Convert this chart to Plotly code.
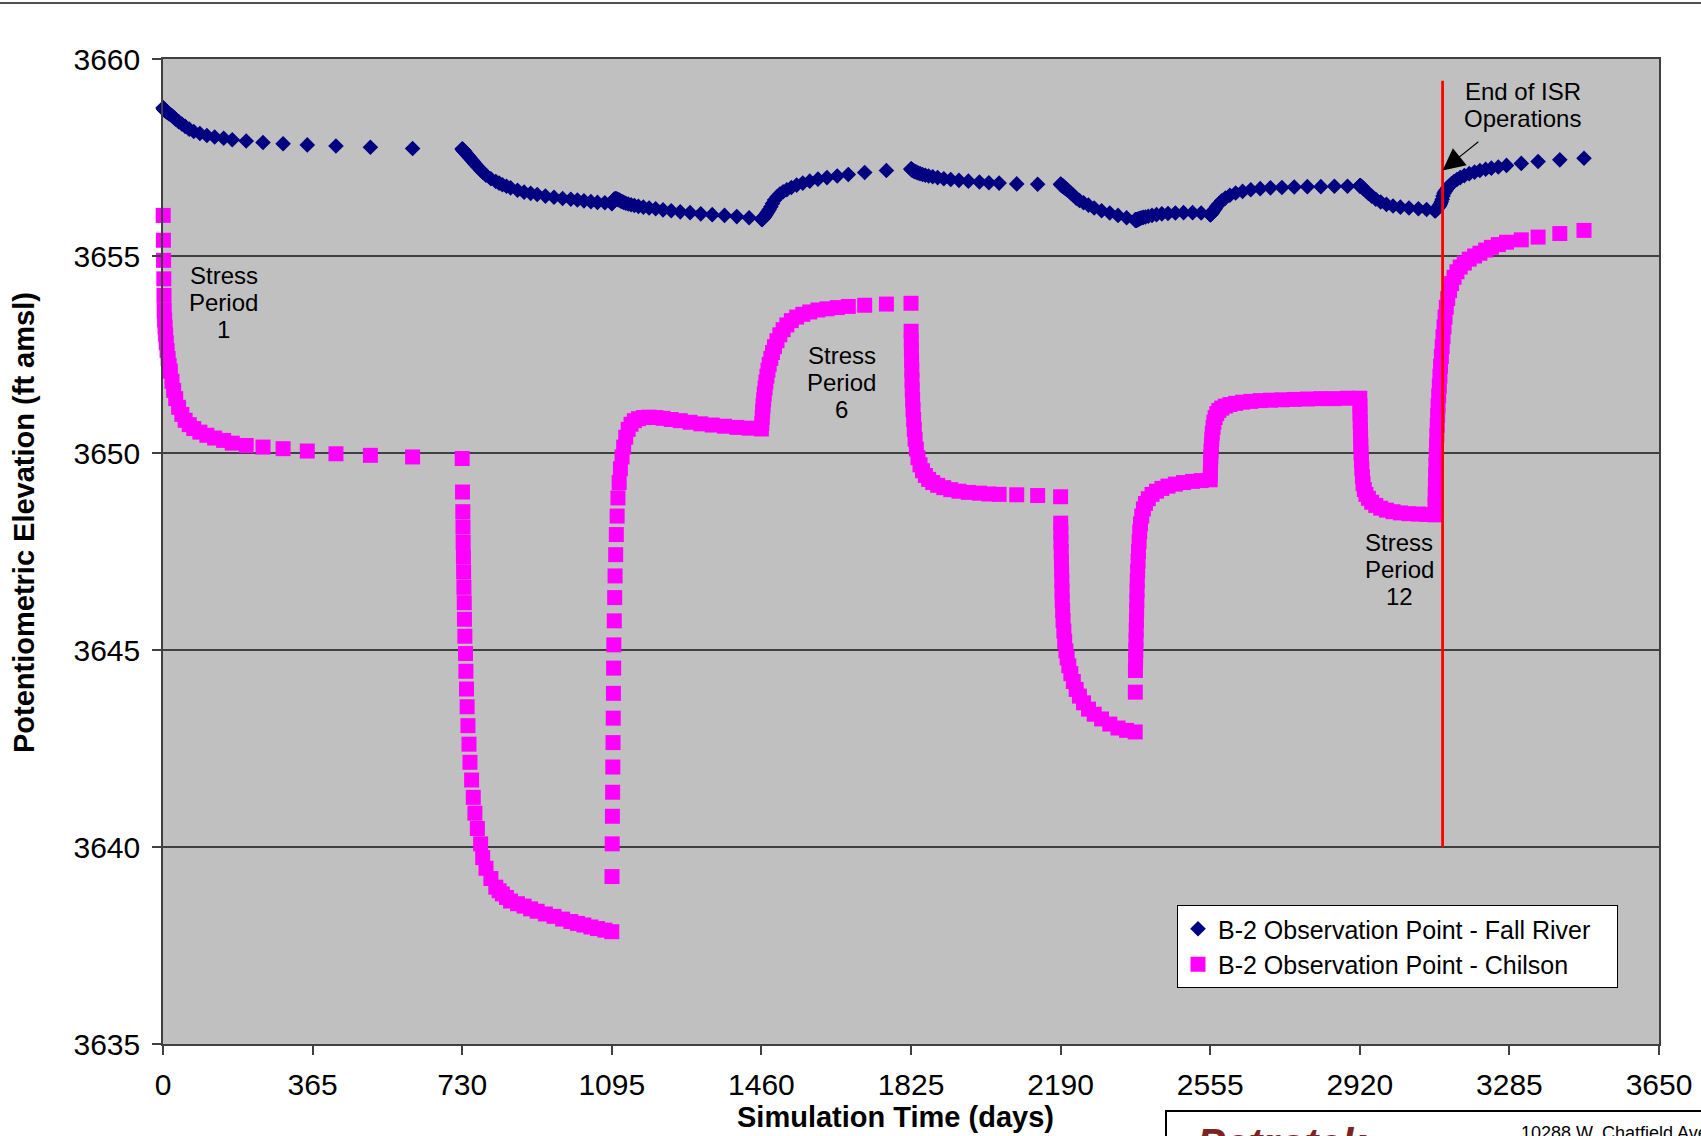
import plotly.graph_objects as go

# ---------------- data ----------------
# Simulation time (days) and heads (ft amsl) per stress-period block
SP1_DAYS = [0.5, 1, 1.5, 2, 2.5, 3, 4, 5, 6.5, 8, 10, 12.5, 15, 18, 22, 26, 31, 38, 46, 54, 64, 75, 90, 107, 126, 148, 169, 203, 244, 293, 352, 422, 506, 609, 730]
SP1_FALL = [3658.76, 3658.75, 3658.74, 3658.73, 3658.72, 3658.71, 3658.70, 3658.69, 3658.68, 3658.67, 3658.65, 3658.63, 3658.61, 3658.59, 3658.56, 3658.52, 3658.47, 3658.41, 3658.35, 3658.29, 3658.22, 3658.16, 3658.11, 3658.06, 3658.02, 3657.99, 3657.95, 3657.92, 3657.88, 3657.85, 3657.82, 3657.79, 3657.76, 3657.73, 3657.72]
SP1_CHIL = [3656.03, 3655.40, 3654.89, 3654.42, 3654.00, 3653.62, 3653.38, 3653.20, 3653.00, 3652.80, 3652.60, 3652.40, 3652.22, 3652.08, 3651.82, 3651.59, 3651.38, 3651.16, 3650.98, 3650.83, 3650.72, 3650.62, 3650.53, 3650.45, 3650.38, 3650.32, 3650.25, 3650.19, 3650.15, 3650.11, 3650.05, 3649.98, 3649.94, 3649.90, 3649.86]

SP2_DAYS = [730.8, 731.5, 731.9, 732.3, 733, 733.5, 734.2, 735, 735.5, 736.5, 738, 739, 740.5, 742, 744, 746.5, 749, 753, 757, 761, 767, 775, 780, 788, 800, 812, 820, 828, 838, 848, 865, 881, 897, 913, 933, 954, 975, 995, 1011, 1027, 1044, 1060, 1078, 1095]
SP2_FALL = [3657.71, 3657.70, 3657.70, 3657.69, 3657.68, 3657.68, 3657.67, 3657.66, 3657.65, 3657.64, 3657.62, 3657.61, 3657.59, 3657.57, 3657.55, 3657.52, 3657.49, 3657.44, 3657.39, 3657.34, 3657.27, 3657.18, 3657.13, 3657.05, 3656.96, 3656.89, 3656.85, 3656.81, 3656.77, 3656.73, 3656.67, 3656.62, 3656.59, 3656.56, 3656.52, 3656.49, 3656.46, 3656.44, 3656.42, 3656.40, 3656.38, 3656.36, 3656.35, 3656.33]
SP2_CHIL = [3649.01, 3648.51, 3648.12, 3647.73, 3647.36, 3646.98, 3646.59, 3646.20, 3645.78, 3645.35, 3644.91, 3644.46, 3644.01, 3643.56, 3643.08, 3642.61, 3642.15, 3641.70, 3641.26, 3640.86, 3640.47, 3640.08, 3639.73, 3639.46, 3639.20, 3638.98, 3638.89, 3638.81, 3638.72, 3638.63, 3638.56, 3638.50, 3638.43, 3638.37, 3638.30, 3638.24, 3638.17, 3638.11, 3638.06, 3638.02, 3637.97, 3637.93, 3637.89, 3637.85]

SP3_DAYS = [1095.5, 1096, 1096.5, 1097, 1097.5, 1098, 1098.5, 1099, 1099.5, 1100, 1101, 1102, 1103, 1104.5, 1106, 1108, 1110, 1113, 1116, 1120, 1124, 1129, 1135, 1142, 1150, 1160, 1172, 1186, 1202, 1220, 1240, 1262, 1286, 1312, 1340, 1370, 1400, 1430, 1460]
SP3_FALL = [3656.34, 3656.35, 3656.36, 3656.37, 3656.38, 3656.39, 3656.40, 3656.41, 3656.42, 3656.43, 3656.44, 3656.44, 3656.45, 3656.45, 3656.45, 3656.44, 3656.43, 3656.42, 3656.40, 3656.38, 3656.36, 3656.34, 3656.32, 3656.30, 3656.28, 3656.26, 3656.24, 3656.22, 3656.20, 3656.17, 3656.15, 3656.12, 3656.10, 3656.07, 3656.05, 3656.03, 3656.00, 3655.97, 3655.94]
SP3_CHIL = [3639.25, 3640.08, 3640.78, 3641.39, 3642.03, 3642.65, 3643.27, 3643.90, 3644.54, 3645.13, 3645.74, 3646.33, 3646.88, 3647.42, 3647.93, 3648.40, 3648.86, 3649.25, 3649.60, 3649.90, 3650.15, 3650.40, 3650.60, 3650.73, 3650.82, 3650.87, 3650.90, 3650.91, 3650.90, 3650.88, 3650.85, 3650.82, 3650.78, 3650.74, 3650.71, 3650.68, 3650.65, 3650.63, 3650.61]

SP4_DAYS = [1461, 1462, 1463, 1464, 1465.5, 1467, 1469, 1471, 1473.5, 1476, 1479, 1483, 1487, 1492, 1498, 1505, 1513, 1522, 1533, 1546, 1561, 1578, 1598, 1620, 1645, 1672, 1712, 1765, 1825]
SP4_FALL = [3655.93, 3655.93, 3655.94, 3655.95, 3655.97, 3655.99, 3656.02, 3656.05, 3656.09, 3656.13, 3656.18, 3656.25, 3656.33, 3656.42, 3656.50, 3656.57, 3656.63, 3656.68, 3656.74, 3656.80, 3656.85, 3656.90, 3656.95, 3656.99, 3657.03, 3657.07, 3657.12, 3657.17, 3657.21]
SP4_CHIL = [3650.75, 3650.90, 3651.05, 3651.20, 3651.35, 3651.50, 3651.65, 3651.80, 3651.95, 3652.10, 3652.25, 3652.40, 3652.55, 3652.70, 3652.85, 3653.00, 3653.13, 3653.25, 3653.36, 3653.45, 3653.52, 3653.58, 3653.63, 3653.66, 3653.69, 3653.72, 3653.75, 3653.78, 3653.80]

SP5_DAYS = [1825.3, 1825.7, 1826, 1826.5, 1827, 1827.5, 1828, 1829, 1830, 1831.5, 1833, 1835, 1838, 1842, 1847, 1853, 1860, 1868, 1878, 1890, 1905, 1922, 1942, 1965, 1992, 2015, 2040, 2083, 2134, 2190]
SP5_FALL = [3657.21, 3657.21, 3657.20, 3657.20, 3657.19, 3657.19, 3657.18, 3657.18, 3657.17, 3657.16, 3657.15, 3657.14, 3657.13, 3657.11, 3657.09, 3657.07, 3657.05, 3657.03, 3657.01, 3656.99, 3656.96, 3656.94, 3656.92, 3656.90, 3656.88, 3656.86, 3656.85, 3656.83, 3656.82, 3656.82]
SP5_CHIL = [3653.09, 3652.84, 3652.60, 3652.35, 3652.10, 3651.85, 3651.60, 3651.35, 3651.10, 3650.85, 3650.60, 3650.35, 3650.10, 3649.88, 3649.70, 3649.55, 3649.43, 3649.33, 3649.25, 3649.18, 3649.12, 3649.07, 3649.03, 3649.00, 3648.98, 3648.96, 3648.95, 3648.94, 3648.92, 3648.89]

SP6_DAYS = [2190.3, 2190.7, 2191, 2191.5, 2192, 2192.5, 2193, 2193.5, 2194, 2195, 2196, 2198, 2200, 2203, 2206, 2210, 2215, 2221, 2228, 2236, 2246, 2258, 2272, 2290, 2310, 2330, 2351, 2372]
SP6_FALL = [3656.82, 3656.82, 3656.81, 3656.81, 3656.80, 3656.80, 3656.79, 3656.79, 3656.78, 3656.78, 3656.77, 3656.75, 3656.73, 3656.71, 3656.68, 3656.65, 3656.60, 3656.54, 3656.47, 3656.41, 3656.35, 3656.29, 3656.22, 3656.15, 3656.09, 3656.03, 3655.97, 3655.92]
SP6_CHIL = [3648.22, 3647.98, 3647.75, 3647.50, 3647.25, 3647.00, 3646.75, 3646.50, 3646.25, 3646.00, 3645.75, 3645.48, 3645.22, 3644.98, 3644.80, 3644.60, 3644.40, 3644.20, 3644.00, 3643.83, 3643.66, 3643.50, 3643.37, 3643.25, 3643.12, 3643.02, 3642.96, 3642.92]

SP7_DAYS = [2372.3, 2372.6, 2373, 2373.5, 2374, 2374.5, 2375, 2375.5, 2376, 2376.5, 2377, 2378, 2379, 2380, 2381.5, 2383, 2385, 2388, 2392, 2397, 2404, 2413, 2424, 2437, 2452, 2470, 2490, 2512, 2533, 2555]
SP7_FALL = [3655.91, 3655.91, 3655.91, 3655.91, 3655.91, 3655.91, 3655.91, 3655.92, 3655.92, 3655.92, 3655.92, 3655.93, 3655.93, 3655.94, 3655.94, 3655.95, 3655.96, 3655.97, 3655.98, 3655.99, 3656.01, 3656.03, 3656.05, 3656.07, 3656.08, 3656.09, 3656.10, 3656.10, 3656.09, 3656.05]
SP7_CHIL = [3643.93, 3644.48, 3644.75, 3645.00, 3645.25, 3645.50, 3645.75, 3646.00, 3646.25, 3646.50, 3646.75, 3647.00, 3647.25, 3647.50, 3647.75, 3648.00, 3648.20, 3648.40, 3648.58, 3648.72, 3648.84, 3648.95, 3649.03, 3649.10, 3649.16, 3649.21, 3649.25, 3649.28, 3649.30, 3649.32]

SP8_DAYS = [2555.3, 2555.6, 2556, 2556.5, 2557, 2558, 2559, 2560, 2562, 2564, 2567, 2571, 2576, 2583, 2592, 2603, 2617, 2634, 2654, 2677, 2702, 2730, 2760, 2792, 2825, 2858, 2890, 2920]
SP8_FALL = [3656.05, 3656.05, 3656.06, 3656.06, 3656.07, 3656.08, 3656.09, 3656.10, 3656.13, 3656.16, 3656.20, 3656.26, 3656.32, 3656.40, 3656.47, 3656.54, 3656.60, 3656.64, 3656.68, 3656.71, 3656.73, 3656.74, 3656.75, 3656.76, 3656.76, 3656.77, 3656.77, 3656.78]
SP8_CHIL = [3649.45, 3649.60, 3649.75, 3649.90, 3650.05, 3650.20, 3650.35, 3650.50, 3650.65, 3650.78, 3650.90, 3651.00, 3651.08, 3651.14, 3651.19, 3651.23, 3651.26, 3651.29, 3651.31, 3651.33, 3651.34, 3651.35, 3651.36, 3651.37, 3651.38, 3651.38, 3651.39, 3651.39]

SP9_DAYS = [2920.3, 2920.6, 2921, 2921.5, 2922, 2922.5, 2923, 2924, 2925, 2926.5, 2928, 2931, 2935, 2941, 2949, 2959, 2971, 2985, 3001, 3019, 3040, 3063, 3083, 3103]
SP9_FALL = [3656.78, 3656.78, 3656.78, 3656.78, 3656.77, 3656.77, 3656.77, 3656.76, 3656.75, 3656.74, 3656.72, 3656.69, 3656.65, 3656.59, 3656.52, 3656.44, 3656.37, 3656.31, 3656.27, 3656.24, 3656.22, 3656.20, 3656.18, 3656.15]
SP9_CHIL = [3651.20, 3651.00, 3650.80, 3650.60, 3650.40, 3650.20, 3650.00, 3649.80, 3649.60, 3649.40, 3649.22, 3649.07, 3648.95, 3648.85, 3648.75, 3648.67, 3648.60, 3648.55, 3648.51, 3648.48, 3648.46, 3648.45, 3648.44, 3648.43]

SP10_DAYS = [3103.5, 3104, 3104.5, 3105, 3105.7, 3106.4, 3107.2, 3108, 3109, 3110, 3111, 3112.5, 3114, 3115.5, 3117, 3119, 3121, 3123, 3125.5, 3128, 3131, 3134.5, 3139, 3144, 3150, 3157, 3165, 3175, 3187, 3200, 3213, 3227, 3241, 3258, 3278, 3314, 3355, 3408, 3467]
SP10_FALL = [3656.15, 3656.15, 3656.16, 3656.16, 3656.17, 3656.18, 3656.19, 3656.20, 3656.21, 3656.22, 3656.23, 3656.25, 3656.27, 3656.30, 3656.33, 3656.38, 3656.44, 3656.52, 3656.59, 3656.64, 3656.68, 3656.73, 3656.79, 3656.84, 3656.89, 3656.94, 3656.99, 3657.04, 3657.09, 3657.13, 3657.17, 3657.20, 3657.23, 3657.26, 3657.30, 3657.35, 3657.40, 3657.44, 3657.48]
SP10_CHIL = [3648.70, 3648.95, 3649.20, 3649.45, 3649.70, 3649.95, 3650.20, 3650.45, 3650.70, 3650.95, 3651.20, 3651.45, 3651.70, 3651.95, 3652.20, 3652.45, 3652.70, 3652.95, 3653.20, 3653.45, 3653.70, 3653.92, 3654.12, 3654.30, 3654.46, 3654.60, 3654.72, 3654.82, 3654.92, 3655.00, 3655.07, 3655.15, 3655.22, 3655.29, 3655.35, 3655.41, 3655.48, 3655.57, 3655.65]

X_TICKS = [0, 365, 730, 1095, 1460, 1825, 2190, 2555, 2920, 3285, 3650]
Y_TICKS = [3635, 3640, 3645, 3650, 3655, 3660]

ISR_END_DAY = 3122
ISR_LINE_BOTTOM = 3640.0
ISR_LINE_TOP = 3659.45

SERIES_NAMES = ["B-2 Observation Point - Fall River", "B-2 Observation Point - Chilson"]

# ---------------- assemble ----------------
blocks = [
    (SP1_DAYS, SP1_FALL, SP1_CHIL), (SP2_DAYS, SP2_FALL, SP2_CHIL),
    (SP3_DAYS, SP3_FALL, SP3_CHIL), (SP4_DAYS, SP4_FALL, SP4_CHIL),
    (SP5_DAYS, SP5_FALL, SP5_CHIL), (SP6_DAYS, SP6_FALL, SP6_CHIL),
    (SP7_DAYS, SP7_FALL, SP7_CHIL), (SP8_DAYS, SP8_FALL, SP8_CHIL),
    (SP9_DAYS, SP9_FALL, SP9_CHIL), (SP10_DAYS, SP10_FALL, SP10_CHIL),
]
days, fall, chil = [], [], []
for d, f, c in blocks:
    n = min(len(d), len(f), len(c))
    days += d[:n]
    fall += f[:n]
    chil += c[:n]

FONT = "Liberation Sans, Arial, sans-serif"
NBSP = "\u00a0"

fig = go.Figure()
fig.add_trace(go.Scatter(
    x=days, y=fall, mode="markers", name=SERIES_NAMES[0] + NBSP * 3, legendgroup="fr",
    marker=dict(symbol="diamond", size=12, color="#000080", line=dict(width=0)),
    cliponaxis=False, hoverinfo="skip"))
fig.add_trace(go.Scatter(
    x=days, y=chil, mode="markers", name=SERIES_NAMES[1], legendgroup="ch",
    marker=dict(symbol="square", size=15, color="#FF00FF", line=dict(width=0)),
    cliponaxis=False, hoverinfo="skip"))

# plot area in page pixels: left 163, right 1659, top 59, bottom 1044
L, R, T, B = 163, 1659, 59, 1044
W, H = 1701, 1136
def px(xp):
    return (xp - L) / (R - L)
def py(yp):
    return (B - yp) / (B - T)

fig.update_layout(
    width=W, height=H,
    margin=dict(l=L, r=W - R, t=T, b=H - B, autoexpand=False),
    paper_bgcolor="white", plot_bgcolor="#C0C0C0",
    font=dict(family=FONT, color="black"),
    showlegend=True,
    legend=dict(x=px(1177), y=py(905), xanchor="left", yanchor="top",
                bgcolor="white", bordercolor="black", borderwidth=1,
                font=dict(size=25, family=FONT, color="black"),
                tracegroupgap=0),
)
fig.update_xaxes(
    range=[0, 3650], tickmode="array", tickvals=X_TICKS, ticktext=[str(v) for v in X_TICKS],
    ticks="outside", ticklen=9, tickwidth=1.5, tickcolor="#404040",
    showline=True, linecolor="#404040", linewidth=1.5, mirror=True,
    showgrid=False, zeroline=False, tickfont=dict(size=30, family=FONT, color="black"),
    ticklabelstandoff=4,
)
fig.update_yaxes(
    range=[3635, 3660], tickmode="array", tickvals=Y_TICKS, ticktext=[str(v) for v in Y_TICKS],
    ticks="outside", ticklen=9, tickwidth=1.5, tickcolor="#404040",
    showline=True, linecolor="#404040", linewidth=1.5, mirror=True,
    showgrid=True, gridcolor="#404040", gridwidth=1.5, zeroline=False,
    tickfont=dict(size=30, family=FONT, color="black"), ticklabelstandoff=6,
)

# End-of-ISR red line
fig.add_shape(type="line", xref="x", yref="y", x0=ISR_END_DAY, x1=ISR_END_DAY,
              y0=ISR_LINE_BOTTOM, y1=ISR_LINE_TOP, line=dict(color="#FF0000", width=2.8), layer="above")

# top rule of the page
fig.add_shape(type="line", xref="paper", yref="paper", x0=px(0), x1=px(W), y0=py(3), y1=py(3),
              line=dict(color="#505050", width=2))
# logo box at bottom right (mostly cut off)
fig.add_shape(type="rect", xref="paper", yref="paper", x0=px(1166), x1=px(W + 20), y0=py(1111), y1=py(H + 60),
              line=dict(color="black", width=2), fillcolor="rgba(0,0,0,0)")

# multi-line text labels, placed line by line (27 px line pitch)
LINE_PITCH = 27
labels = [
    (["Stress", "Period", "1"], 147.6, 3653.81),
    (["Stress", "Period", "6"], 1656, 3651.78),
    (["Stress", "Period", "12"], 3016, 3647.04),
    (["End of ISR", "Operations"], 3318, 3658.84),
]
for lines, xv, yv in labels:
    n = len(lines)
    for i, line in enumerate(lines):
        fig.add_annotation(text=line, x=xv, y=yv, xref="x", yref="y", showarrow=False,
                           yshift=((n - 1) / 2 - i) * LINE_PITCH,
                           font=dict(size=24, family=FONT, color="black"), align="center")

# arrow pointing at the end-of-ISR line
fig.add_annotation(x=ISR_END_DAY, y=3657.17, ax=3213, ay=3657.93, xref="x", yref="y", axref="x", ayref="y",
                   text="", showarrow=True, arrowhead=2, arrowsize=4, arrowwidth=1.1, arrowcolor="black")

# axis titles
fig.add_annotation(text="<b>Simulation Time (days)</b>", x=px(895), y=py(1117), xref="paper", yref="paper",
                   showarrow=False, font=dict(size=29, family=FONT, color="black"), xanchor="center", yanchor="middle")
fig.add_annotation(text="<b>Potentiometric Elevation (ft amsl)</b>", x=px(24), y=py(523), xref="paper", yref="paper",
                   showarrow=False, textangle=-90, font=dict(size=29, family=FONT, color="black"),
                   xanchor="center", yanchor="middle")

# logo fragments (cut at the page bottom)
fig.add_annotation(text="<b><i>Petrotek</i></b>", x=px(1195), y=py(1118), xref="paper", yref="paper",
                   showarrow=False, xanchor="left", yanchor="top", font=dict(size=42, family=FONT, color="#7B2424"))
fig.add_annotation(text="10288 W. Chatfield Ave., Suite 201", x=px(1519), y=py(1121), xref="paper", yref="paper",
                   showarrow=False, xanchor="left", yanchor="top", font=dict(size=18, family=FONT, color="black"))

fig.write_html("out.html", config={"displayModeBar": False},
               post_script="document.body.style.margin='0';document.body.style.overflow='hidden';")
